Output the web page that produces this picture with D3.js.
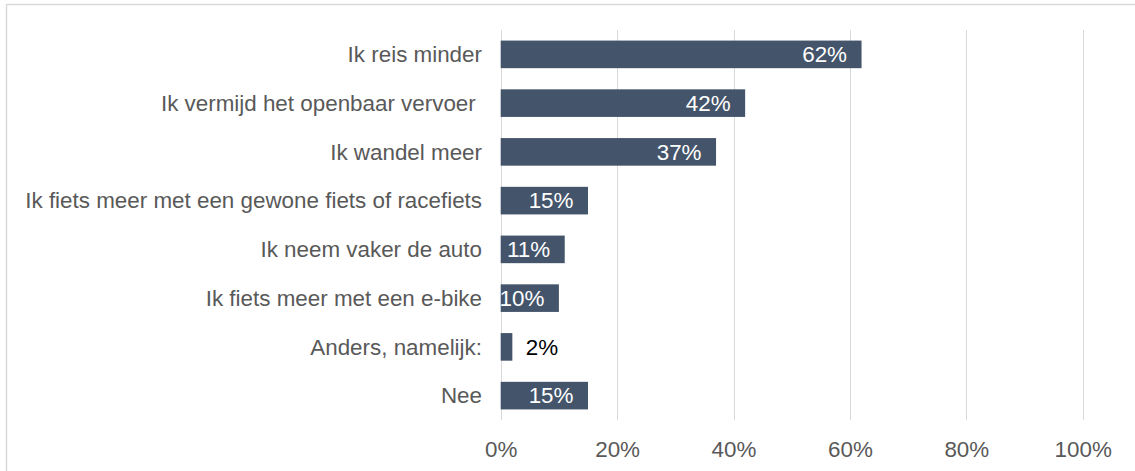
<!DOCTYPE html>
<html>
<head>
<meta charset="utf-8">
<script src="https://cdn.jsdelivr.net/npm/d3@7"></script>
<style>
  html, body { margin: 0; padding: 0; background: #fff; }
  svg { display: block; font-family: "Liberation Sans", Arial, sans-serif; }
  text { white-space: pre; }
</style>
</head>
<body>
<svg id="chart" width="1135" height="471"></svg>
<script>
const categories = [
  "Ik reis minder",
  "Ik vermijd het openbaar vervoer ",
  "Ik wandel meer",
  "Ik fiets meer met een gewone fiets of racefiets",
  "Ik neem vaker de auto",
  "Ik fiets meer met een e-bike",
  "Anders, namelijk:",
  "Nee"
];
const values = [0.62, 0.42, 0.37, 0.15, 0.11, 0.10, 0.02, 0.15];
const tickValues = [0, 0.2, 0.4, 0.6, 0.8, 1.0];
const tickLabels = ["0%", "20%", "40%", "60%", "80%", "100%"];

const FS = 22.4;
const svg = d3.select("#chart");

// outer chart border (extends beyond the visible frame)
svg.append("rect")
  .attr("x", 6.5).attr("y", 4.5)
  .attr("width", 1300).attr("height", 700)
  .attr("fill", "none")
  .attr("stroke", "#d9d9d9")
  .attr("stroke-width", 1.5);

const x = d3.scaleLinear().domain([0, 1]).range([500.7, 1082.7]);
const y = d3.scaleBand().domain(categories).range([30, 420])
  .paddingInner(0.434).paddingOuter(0.217);

// gridlines
svg.append("g").selectAll("line")
  .data(tickValues)
  .join("line")
  .attr("x1", d => Math.round(x(d)) + 0.5)
  .attr("x2", d => Math.round(x(d)) + 0.5)
  .attr("y1", 30).attr("y2", 420)
  .attr("stroke", "#d9d9d9")
  .attr("stroke-width", 1);

// x axis tick labels
const xAxis = d3.axisBottom(x)
  .tickValues(tickValues)
  .tickFormat((d, i) => tickLabels[i])
  .tickSize(0)
  .tickPadding(0);
const gx = svg.append("g").attr("transform", "translate(0,441)").call(xAxis);
gx.select(".domain").remove();
gx.selectAll("text")
  .attr("fill", "#595959")
  .attr("font-size", FS)
  .attr("font-family", "Liberation Sans, Arial, sans-serif")
  .attr("dy", "0.72em");

// y axis category labels
const yAxis = d3.axisLeft(y).tickSize(0).tickPadding(0);
const gy = svg.append("g").attr("transform", "translate(482,0)").call(yAxis);
gy.select(".domain").remove();
gy.selectAll("text")
  .attr("fill", "#595959")
  .attr("font-size", FS)
  .attr("font-family", "Liberation Sans, Arial, sans-serif")
  .attr("dy", "0.35em");

// bars
svg.append("g").selectAll("rect")
  .data(categories)
  .join("rect")
  .attr("x", x(0))
  .attr("y", d => y(d))
  .attr("width", (d, i) => x(values[i]) - x(0))
  .attr("height", y.bandwidth())
  .attr("fill", "#44546A");

// data labels
svg.append("g").selectAll("text")
  .data(categories)
  .join("text")
  .attr("x", (d, i) => values[i] < 0.05 ? x(values[i]) + 13.5 : x(values[i]) - 14.5)
  .attr("y", d => y(d) + y.bandwidth() / 2)
  .attr("dy", "0.35em")
  .attr("text-anchor", (d, i) => values[i] < 0.05 ? "start" : "end")
  .attr("font-size", FS)
  .attr("fill", (d, i) => values[i] < 0.05 ? "#000000" : "#ffffff")
  .text((d, i) => Math.round(values[i] * 100) + "%");
</script>
</body>
</html>
